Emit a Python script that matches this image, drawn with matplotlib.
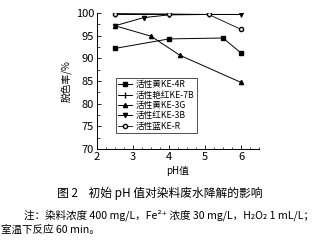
import numpy as np
import matplotlib.pyplot as plt
from matplotlib.ticker import MultipleLocator

plt.rcParams['font.family'] = ['Noto Sans CJK SC', 'DejaVu Sans']

# values (pH -> decolourisation %)
names = ['活性黄KE-4R', '活性艳红KE-7B', '活性黄KE-3G', '活性红KE-3B', '活性蓝KE-R']
ph_4r = [2.5, 4.0, 5.5, 6.0]
y_4r = [92.2, 94.3, 94.5, 91.2]
ph_7b = [2.5, 4.0, 5.1, 6.0]
y_7b = [99.8, 99.8, 99.8, 99.8]
ph_3g = [2.5, 3.5, 4.3, 6.0]
y_3g = [97.2, 94.9, 90.7, 84.7]
ph_3b = [2.5, 3.3, 4.0, 5.1, 6.0]
y_3b = [97.2, 99.0, 99.6, 99.7, 99.7]
ph_r = [2.5, 4.0, 5.1, 6.0]
y_r = [99.9, 99.8, 99.7, 96.4]

fig = plt.figure(figsize=(3.19, 2.42), dpi=100)
ax = fig.add_axes([0.304, 0.384, 0.508, 0.562])

kw = dict(color='k', lw=0.7, ms=3)
ax.plot(ph_4r, y_4r, marker='s', label=names[0], **kw)
ax.plot(ph_7b, y_7b, marker='|', label=names[1], color='k', lw=0.7, ms=5)
ax.plot(ph_3g, y_3g, marker='^', label=names[2], **kw)
ax.plot(ph_3b, y_3b, marker='v', label=names[3], **kw)
ax.plot(ph_r, y_r, marker='o', mfc='white', label=names[4], color='k', lw=0.6, ms=3)

ax.set_xlim(2, 6.5)
ax.set_ylim(70, 100)
ax.set_xticks([2, 3, 4, 5, 6])
ax.set_yticks(np.arange(70, 101, 5))
ax.xaxis.set_minor_locator(MultipleLocator(0.25))
ax.yaxis.set_minor_locator(MultipleLocator(2.5))
ax.tick_params(direction='in', labelsize=8, width=0.6, length=3, pad=2)
ax.tick_params(which='minor', direction='in', width=0.5, length=1.8)
for s in ['top', 'right']:
    ax.spines[s].set_visible(False)
for s in ['left', 'bottom']:
    ax.spines[s].set_linewidth(0.7)

ax.set_xlabel('pH值', fontsize=7, labelpad=3)
ax.set_ylabel('脱色率/%', fontsize=7, labelpad=3)

leg = ax.legend(loc='lower left', bbox_to_anchor=(0.09, 0.085), fontsize=6.2,
                frameon=True, fancybox=False, edgecolor='k', handlelength=1.6,
                handletextpad=0.4, labelspacing=0.15, borderpad=0.3)
leg.get_frame().set_linewidth(0.6)

fig.text(0.5, 0.2, '图 2    初始 pH 值对染料废水降解的影响', ha='center', va='center', fontsize=8.5)
fig.text(0.075, 0.112, '注：染料浓度 400 mg/L，Fe²⁺ 浓度 30 mg/L，H₂O₂ 1 mL/L；',
         ha='left', va='center', fontsize=7.6)
fig.text(0.003, 0.05, '室温下反应 60 min。', ha='left', va='center', fontsize=7.6)

fig.savefig('out.png', dpi=100)
